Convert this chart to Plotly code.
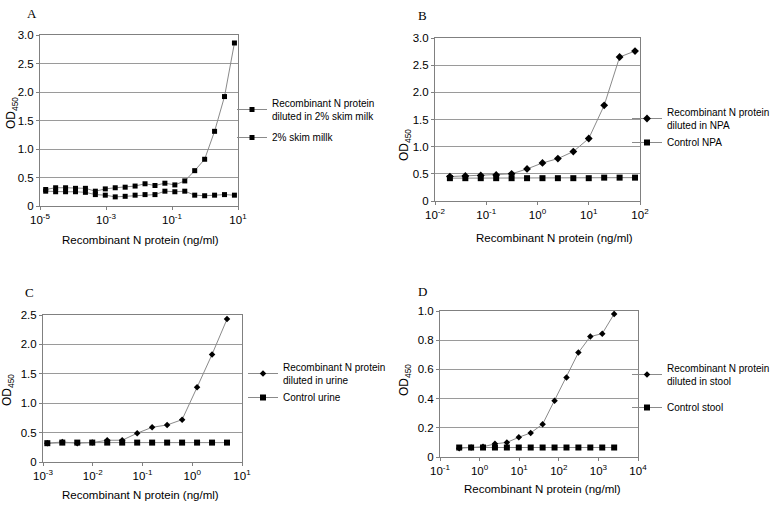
import plotly.graph_objects as go

# ---------------- data ----------------
# Panel A
a_x = [7.8 / 2**k for k in range(19, -1, -1)]
a_rec = [0.29, 0.32, 0.32, 0.31, 0.31, 0.26, 0.30, 0.32, 0.33, 0.35,
         0.39, 0.36, 0.40, 0.37, 0.44, 0.62, 0.82, 1.31, 1.92, 2.86]
a_ctl = [0.26, 0.25, 0.25, 0.25, 0.24, 0.20, 0.19, 0.16, 0.17, 0.19,
         0.20, 0.20, 0.26, 0.25, 0.26, 0.19, 0.18, 0.19, 0.20, 0.19]
# Panel B
b_x = [80 / 2**k for k in range(12, -1, -1)]
b_rec = [0.45, 0.46, 0.47, 0.48, 0.50, 0.59, 0.70, 0.78, 0.91, 1.15, 1.76, 2.65, 2.76]
b_ctl = [0.42, 0.42, 0.42, 0.42, 0.42, 0.42, 0.42, 0.42, 0.42, 0.42, 0.43, 0.43, 0.43]
# Panel C
c_x = [5 / 2**k for k in range(12, -1, -1)]
c_rec = [0.32, 0.34, 0.32, 0.33, 0.37, 0.37, 0.49, 0.59, 0.63, 0.72, 1.27, 1.83, 2.43]
c_ctl = [0.32, 0.33, 0.33, 0.33, 0.33, 0.33, 0.33, 0.33, 0.33, 0.33, 0.33, 0.33, 0.33]
# Panel D
d_x = [2500 / 2**k for k in range(13, -1, -1)]
d_rec = [0.06, 0.065, 0.07, 0.09, 0.10, 0.135, 0.165, 0.225, 0.385, 0.545, 0.715, 0.825, 0.845, 0.98]
d_ctl = [0.065] * 14

# axis tick decades (exponents) per panel
a_dec = [-5, -3, -1, 1]
b_dec = [-2, -1, 0, 1, 2]
c_dec = [-3, -2, -1, 0, 1]
d_dec = [-1, 0, 1, 2, 3, 4]

a_names = ["Recombinant N protein<br>diluted in 2% skim milk", "2% skim millk"]
b_names = ["Recombinant N protein<br>diluted in NPA", "Control NPA"]
c_names = ["Recombinant N protein<br>diluted in urine", "Control urine"]
d_names = ["Recombinant N protein<br>diluted in stool", "Control stool"]

FONT = "Liberation Sans, Arial, sans-serif"
LINE = "#8a8a8a"
W, H = 773, 505

fig = go.Figure()

def add(x, y, name, sym, xa, ya, leg, size, grp):
    fig.add_trace(go.Scatter(
        x=x, y=y, name=name, mode="lines+markers",
        line=dict(color=LINE, width=1),
        marker=dict(symbol=sym, size=size, color="black"),
        xaxis=xa, yaxis=ya, legend=leg, legendgroup=grp))

add(a_x, a_rec, a_names[0], "square", "x", "y", "legend", 5, "a1")
add(a_x, a_ctl, a_names[1], "square", "x", "y", "legend", 5, "a2")
add(b_x, b_rec, b_names[0], "diamond", "x2", "y2", "legend2", 6, "b1")
add(b_x, b_ctl, b_names[1], "square", "x2", "y2", "legend2", 6, "b2")
add(c_x, c_rec, c_names[0], "diamond", "x3", "y3", "legend3", 5, "c1")
add(c_x, c_ctl, c_names[1], "square", "x3", "y3", "legend3", 6, "c2")
add(d_x, d_rec, d_names[0], "diamond", "x4", "y4", "legend4", 5, "d1")
add(d_x, d_ctl, d_names[1], "square", "x4", "y4", "legend4", 6, "d2")

def dom(p0, p1, total, flip=False):
    if flip:
        return [1 - p1 / total, 1 - p0 / total]
    return [p0 / total, p1 / total]

def xaxis(d0, d1, decs, ya):
    return dict(type="log", domain=dom(d0, d1, W), range=[decs[0], decs[-1]],
                tickvals=[10**e for e in decs], ticktext=["10<sup>%d</sup>" % e for e in decs],
                showgrid=False, showline=True, linecolor="#808080", linewidth=1,
                mirror=True, ticks="outside", ticklen=3, tickcolor="#808080",
                tickfont=dict(family=FONT, size=11.5, color="black"), zeroline=False,
                anchor=ya)

def yaxis(d0, d1, top, step, xa):
    vals = []
    v = 0.0
    while v <= top + 1e-9:
        vals.append(round(v, 2))
        v += step
    txt = ["0" if v == 0 else ("%.1f" % v) for v in vals]
    return dict(domain=dom(d0, d1, H, True), range=[0, top], tickvals=vals, ticktext=txt,
                showgrid=True, gridcolor="#9a9a9a", gridwidth=1,
                showline=True, linecolor="#808080", linewidth=1, mirror=True,
                ticks="outside", ticklen=3, tickcolor="#808080",
                tickfont=dict(family=FONT, size=11.5, color="black"), zeroline=False,
                anchor=xa)

fig.update_layout(
    width=W, height=H, margin=dict(l=0, r=0, t=0, b=0, autoexpand=False),
    paper_bgcolor="white", plot_bgcolor="white",
    font=dict(family=FONT, size=10, color="black"),
    xaxis=xaxis(40, 238, a_dec, "y"),
    yaxis=yaxis(35, 206, 3.0, 0.5, "x"),
    xaxis2=xaxis(435, 640, b_dec, "y2"),
    yaxis2=yaxis(38, 201, 3.0, 0.5, "x2"),
    xaxis3=xaxis(43, 242, c_dec, "y3"),
    yaxis3=yaxis(315, 462, 2.5, 0.5, "x3"),
    xaxis4=xaxis(440, 638, d_dec, "y4"),
    yaxis4=yaxis(311, 457, 1.0, 0.2, "x4"),
)

def leg(x, y, gap):
    return dict(x=x / W, y=1 - y / H, xanchor="left", yanchor="top",
                bgcolor="rgba(0,0,0,0)", font=dict(family=FONT, size=10, color="black"),
                tracegroupgap=gap, itemwidth=30)

fig.update_layout(legend=leg(232, 90, 4), legend2=leg(627, 99, 0),
                  legend3=leg(243, 354, 0), legend4=leg(627, 355, 9))

ann = []
for txt, x, y in [("A", 32, 13), ("B", 423, 15), ("C", 30, 292), ("D", 423, 291)]:
    ann.append(dict(text=txt, x=x / W, y=1 - y / H, xref="paper", yref="paper",
                    showarrow=False, xanchor="center", yanchor="middle",
                    font=dict(family="Liberation Serif, Times New Roman, serif", size=13)))
for x, y in [(140, 240), (554, 238), (140, 495), (542, 489)]:
    ann.append(dict(text="Recombinant N protein (ng/ml)", x=x / W, y=1 - y / H,
                    xref="paper", yref="paper", showarrow=False,
                    xanchor="center", yanchor="middle", font=dict(family=FONT, size=11.5)))
for x, y in [(12, 113), (405, 145), (8, 390), (405, 380)]:
    ann.append(dict(text="OD<sub>450</sub>", x=x / W, y=1 - y / H, textangle=-90,
                    xref="paper", yref="paper", showarrow=False,
                    xanchor="center", yanchor="middle", font=dict(family=FONT, size=12)))
fig.update_layout(annotations=ann)

fig.write_html("out.html", config={"displayModeBar": False},
               post_script="document.body.style.margin='0px';document.body.style.overflow='hidden';")
